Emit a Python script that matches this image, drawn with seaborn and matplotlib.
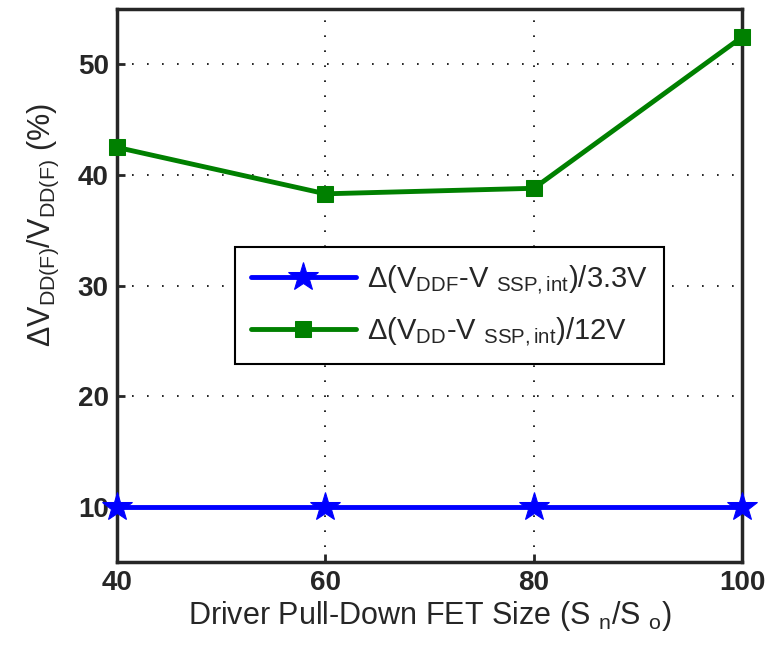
import matplotlib as mpl
mpl.use('Agg')
import matplotlib.pyplot as plt
import seaborn as sns
import pandas as pd

# valores
sizes = [40, 60, 80, 100]
v33 = [10, 10, 10, 10]
v12 = [42.5, 38.3, 38.8, 52.5]
lbl33 = r'$\Delta$(V$_{\rm DDF}$-V $_{\rm SSP,int}$)/3.3V'
lbl12 = r'$\Delta$(V$_{\rm DD}$-V $_{\rm SSP,int}$)/12V'
colores = ['#0000ff', '#008000']

df = pd.DataFrame({
    'x': sizes * 2,
    'y': v33 + v12,
    'serie': [lbl33] * 4 + [lbl12] * 4,
})

sns.set_style('ticks')
plt.rcParams['font.family'] = ['Liberation Sans', 'DejaVu Sans']
plt.rcParams['mathtext.fontset'] = 'custom'
plt.rcParams['mathtext.rm'] = 'Liberation Sans'
plt.rcParams['mathtext.it'] = 'Liberation Sans:italic'
plt.rcParams['mathtext.bf'] = 'Liberation Sans:bold'

fig = plt.figure(figsize=(7.72, 6.55), dpi=100)
ax = fig.add_axes([0.1516, 0.142, 0.810, 0.844])

sns.lineplot(data=df, x='x', y='y', hue='serie', style='serie',
             palette=colores, markers=['*', 's'], dashes=False,
             linewidth=3.5, ax=ax)

#>> marcadores estilo matlab
for l in ax.lines:
    l.set_markeredgecolor(l.get_color())
    l.set_markerfacecolor(l.get_color())
    l.set_clip_on(False)
    l.set_zorder(5)
    if l.get_marker() == 's':
        l.set_markersize(12)
    else:
        l.set_markersize(22)

ax.set_xlim(40, 100)
ax.set_ylim(5, 55)
ax.set_xticks([40, 60, 80, 100])
ax.set_yticks([10, 20, 30, 40, 50])
ax.grid(True, linestyle=(0, (1, 8)), color='black', linewidth=1.2)
ax.tick_params(direction='in', length=6, width=2, labelsize=20, pad=6)
for t in ax.get_xticklabels() + ax.get_yticklabels():
    t.set_fontweight('bold')
for s in ax.spines.values():
    s.set_linewidth(2.5)
    s.set_visible(True)

ax.set_xlabel(r'Driver Pull-Down FET Size (S $_{\rm n}$/S $_{\rm o}$)', fontsize=22, labelpad=2)
ax.set_ylabel(r'$\Delta$V$_{\rm DD(F)}$/V$_{\rm DD(F)}$ (%)', fontsize=22)
ax.yaxis.set_label_coords(-0.09, 0.61)

leg = ax.legend(loc='upper left', bbox_to_anchor=(0.188, 0.569), borderaxespad=0,
                fontsize=21, frameon=True, fancybox=False, edgecolor='black', framealpha=1,
                handlelength=3.6, borderpad=0.55, labelspacing=0.65, handletextpad=0.4)
leg.get_frame().set_linewidth(1.5)

fig.savefig('out.png', dpi=100)
